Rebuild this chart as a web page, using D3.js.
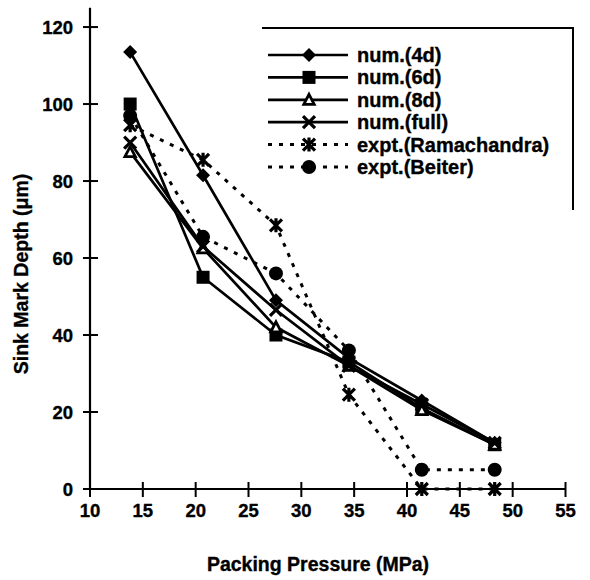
<!DOCTYPE html>
<html><head><meta charset="utf-8">
<script src="https://cdn.jsdelivr.net/npm/d3@7"></script>
<style>body{margin:0;background:#fff}svg{display:block}text{font-family:"Liberation Sans",Arial,sans-serif;font-weight:bold;fill:#000;stroke:#000;stroke-width:0.35px}</style>
</head><body><svg id="c" width="590" height="580"></svg>
<script>
const pressures = [13.8, 20.7, 27.6, 34.5, 41.4, 48.3];
const num4d   = [113.5, 81.5, 49, 34, 23, 12];
const num6d   = [100, 55, 40, 33, 21, 11.5];
const num8d   = [87.5, 62.5, 42, 32, 20.5, 11.5];
const numFull = [90, 63, 46.5, 32, 22, 12];
const exptRam = [94.5, 85.5, 68.5, 24.5, 0, 0];
const exptBei = [97, 65.5, 56, 36, 5, 5];
const seriesNames = ["num.(4d)", "num.(6d)", "num.(8d)", "num.(full)", "expt.(Ramachandra)", "expt.(Beiter)"];
const xTicks = [10, 15, 20, 25, 30, 35, 40, 45, 50, 55];
const yTicks = [0, 20, 40, 60, 80, 100, 120];

const series = [
  {name: seriesNames[0], vals: num4d, marker: "diamond", dashed: false},
  {name: seriesNames[1], vals: num6d, marker: "square", dashed: false},
  {name: seriesNames[2], vals: num8d, marker: "triangle", dashed: false},
  {name: seriesNames[3], vals: numFull, marker: "x", dashed: false},
  {name: seriesNames[4], vals: exptRam, marker: "star", dashed: true},
  {name: seriesNames[5], vals: exptBei, marker: "circle", dashed: true}
];

const svg = d3.select("#c");
const x = d3.scaleLinear().domain([10, 55]).range([90, 565.5]);
const y = d3.scaleLinear().domain([0, 125]).range([489, 7.8]);

svg.append("line").attr("x1", 90).attr("x2", 90).attr("y1", y(125)).attr("y2", y(0)).attr("stroke", "#000").attr("stroke-width", 2.2);
svg.append("line").attr("x1", x(10)).attr("x2", x(55)).attr("y1", y(0)).attr("y2", y(0)).attr("stroke", "#000").attr("stroke-width", 2.2);

svg.selectAll(".yt").data(yTicks).enter().append("line")
  .attr("x1", 83).attr("x2", 98).attr("y1", d => y(d)).attr("y2", d => y(d))
  .attr("stroke", "#000").attr("stroke-width", 2);
svg.selectAll(".ytl").data(yTicks).enter().append("text")
  .attr("x", 73).attr("y", d => y(d) + 6.5).attr("text-anchor", "end")
  .style("font-size", "18.5px").text(d => d);

svg.selectAll(".xt").data(xTicks).enter().append("line")
  .attr("x1", d => x(d)).attr("x2", d => x(d)).attr("y1", 482).attr("y2", 497)
  .attr("stroke", "#000").attr("stroke-width", 2);
svg.selectAll(".xtl").data(xTicks).enter().append("text")
  .attr("x", d => x(d)).attr("y", 517).attr("text-anchor", "middle")
  .style("font-size", "18.5px").text(d => d);

svg.append("text").attr("x", 318).attr("y", 571).attr("text-anchor", "middle")
  .style("font-size", "19.5px").text("Packing Pressure (MPa)");
svg.append("text").attr("transform", "translate(28,274) rotate(-90)").attr("text-anchor", "middle")
  .style("font-size", "19.5px").text("Sink Mark Depth (μm)");

function drawMarker(g, type, cx, cy) {
  const s = 7;
  if (type === "diamond") {
    g.append("path").attr("d", `M${cx},${cy-s}L${cx+s},${cy}L${cx},${cy+s}L${cx-s},${cy}Z`).attr("fill", "#000");
  } else if (type === "square") {
    g.append("rect").attr("x", cx - 6.5).attr("y", cy - 6.5).attr("width", 13).attr("height", 13).attr("fill", "#000");
  } else if (type === "triangle") {
    g.append("path").attr("d", `M${cx},${cy-5.5}L${cx+5.2},${cy+4.5}L${cx-5.2},${cy+4.5}Z`).attr("fill", "#fff").attr("stroke", "#000").attr("stroke-width", 2.8);
  } else if (type === "x") {
    g.append("path").attr("d", `M${cx-6},${cy-6}L${cx+6},${cy+6}M${cx-6},${cy+6}L${cx+6},${cy-6}`).attr("stroke", "#000").attr("stroke-width", 3.2);
  } else if (type === "star") {
    g.append("path").attr("d", `M${cx-6},${cy-6}L${cx+6},${cy+6}M${cx-6},${cy+6}L${cx+6},${cy-6}M${cx},${cy-7}L${cx},${cy+7}`).attr("stroke", "#000").attr("stroke-width", 3.2);
  } else if (type === "circle") {
    g.append("circle").attr("cx", cx).attr("cy", cy).attr("r", 7).attr("fill", "#000");
  }
}

const line = d3.line().x((d, i) => x(pressures[i])).y(d => y(d));
series.forEach(s => {
  svg.append("path").attr("d", line(s.vals)).attr("fill", "none").attr("stroke", "#000")
    .attr("stroke-width", s.dashed ? 3 : 2.7)
    .attr("stroke-dasharray", s.dashed ? "4,7" : null);
});
series.forEach(s => {
  const g = svg.append("g");
  s.vals.forEach((v, i) => drawMarker(g, s.marker, x(pressures[i]), y(v)));
});

svg.append("path").attr("d", "M262,28L573,28L573,210").attr("fill", "none").attr("stroke", "#000").attr("stroke-width", 2);
const legY0 = 55, legDy = 22.4;
series.forEach((s, i) => {
  const ly = legY0 + i * legDy;
  const g = svg.append("g");
  g.append("line").attr("x1", 268).attr("x2", 348).attr("y1", ly).attr("y2", ly)
    .attr("stroke", "#000").attr("stroke-width", s.dashed ? 3 : 2.7)
    .attr("stroke-dasharray", s.dashed ? "4,7" : null);
  drawMarker(g, s.marker, 309, ly);
  g.append("text").attr("x", 357).attr("y", ly + 7).style("font-size", "20px").text(s.name);
});
</script></body></html>
